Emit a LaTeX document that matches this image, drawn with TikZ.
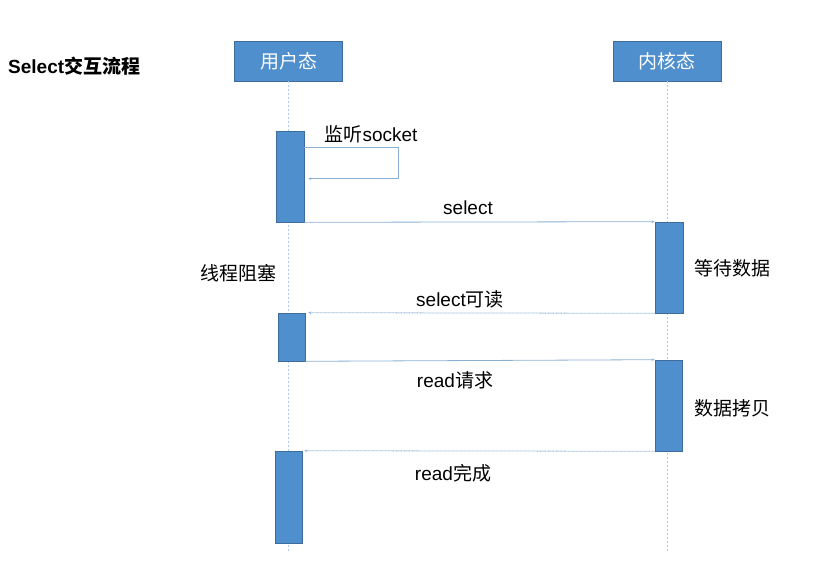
\documentclass[tikz,border=0pt]{standalone}
\usepackage{fontspec}
\setmainfont{Liberation Sans}
\newfontfamily\cjk{Noto Sans CJK SC}
\usetikzlibrary{arrows.meta,positioning}
\definecolor{barblue}{RGB}{79,143,205}
\definecolor{barline}{RGB}{62,108,156}
\definecolor{msgblue}{RGB}{140,176,212}
\definecolor{lifeblue}{RGB}{175,202,228}

\begin{document}
\begin{tikzpicture}[x=1pt,y=-1pt,
    actor/.style={rectangle,fill=barblue,draw=barline,line width=0.6pt,
      text=white,minimum width=108,minimum height=40,
      font=\fontsize{19}{22}\selectfont\cjk},
    bar/.style={rectangle,fill=barblue,draw=barline,line width=0.6pt,
      inner sep=0pt,minimum width=27},
    life/.style={lifeblue,line width=0.8pt,dash pattern=on 2pt off 2pt},
    msg/.style={msgblue,line width=0.8pt,-{Stealth[length=3pt,width=2.5pt]}},
    reply/.style={msg,dash pattern=on 1pt off 0.6pt},
    lbl/.style={font=\fontsize{19}{22}\selectfont,inner sep=0pt}]
  \useasboundingbox (0,0) rectangle (827,561);

  \node[lbl,font=\fontsize{19}{22}\selectfont\bfseries,anchor=west] (title) at (8,66)
    {Select{\cjk 交互流程}};

  % participants
  \node[actor] (user) at (288.5,61) {用户态};
  \node[actor] (kernel) at (667,61) {内核态};
  \draw[life] (user.south) -- (user.south |- 0,553);
  \draw[life] (kernel.south) -- (kernel.south |- 0,553);

  % activations
  \node[bar,minimum width=28,minimum height=91] (ub1) at (290,176.5) {};
  \node[bar,minimum height=48] (ub2) at (291.5,337) {};
  \node[bar,minimum height=92] (ub3) at (288.5,497) {};
  \node[bar,minimum width=28,minimum height=91] (kb1) at (669,267.5) {};
  \node[bar,minimum height=91] (kb2) at (668.5,405.5) {};

  % messages
  \draw[msg] ([yshift=-17pt]ub1.north east) -- ++(94,0)
    |- ([xshift=4pt,yshift=-48pt]ub1.north east);
  \node[lbl] (listen) at (371,134) {{\cjk 监听}socket};

  \draw[msg] (ub1.south east) -- (kb1.north west);
  \node[lbl] (sel) at (468,208) {select};

  \draw[reply] (kb1.south west) -- ([xshift=3pt]ub2.north east);
  \node[lbl] (readable) at (460,299) {select{\cjk 可读}};

  \draw[msg] (ub2.south east) -- (kb2.north west);
  \node[lbl] (req) at (455,380) {read{\cjk 请求}};

  \draw[reply] (kb2.south west) -- ([xshift=2pt]ub3.north east);
  \node[lbl] (done) at (453,473) {read{\cjk 完成}};

  % notes
  \node[lbl,font=\fontsize{19}{22}\selectfont\cjk] (block) at (238,273) {线程阻塞};
  \node[lbl,font=\fontsize{19}{22}\selectfont\cjk] (wait) at (732,268) {等待数据};
  \node[lbl,font=\fontsize{19}{22}\selectfont\cjk] (copy) at (732,408) {数据拷贝};
\end{tikzpicture}
\end{document}
